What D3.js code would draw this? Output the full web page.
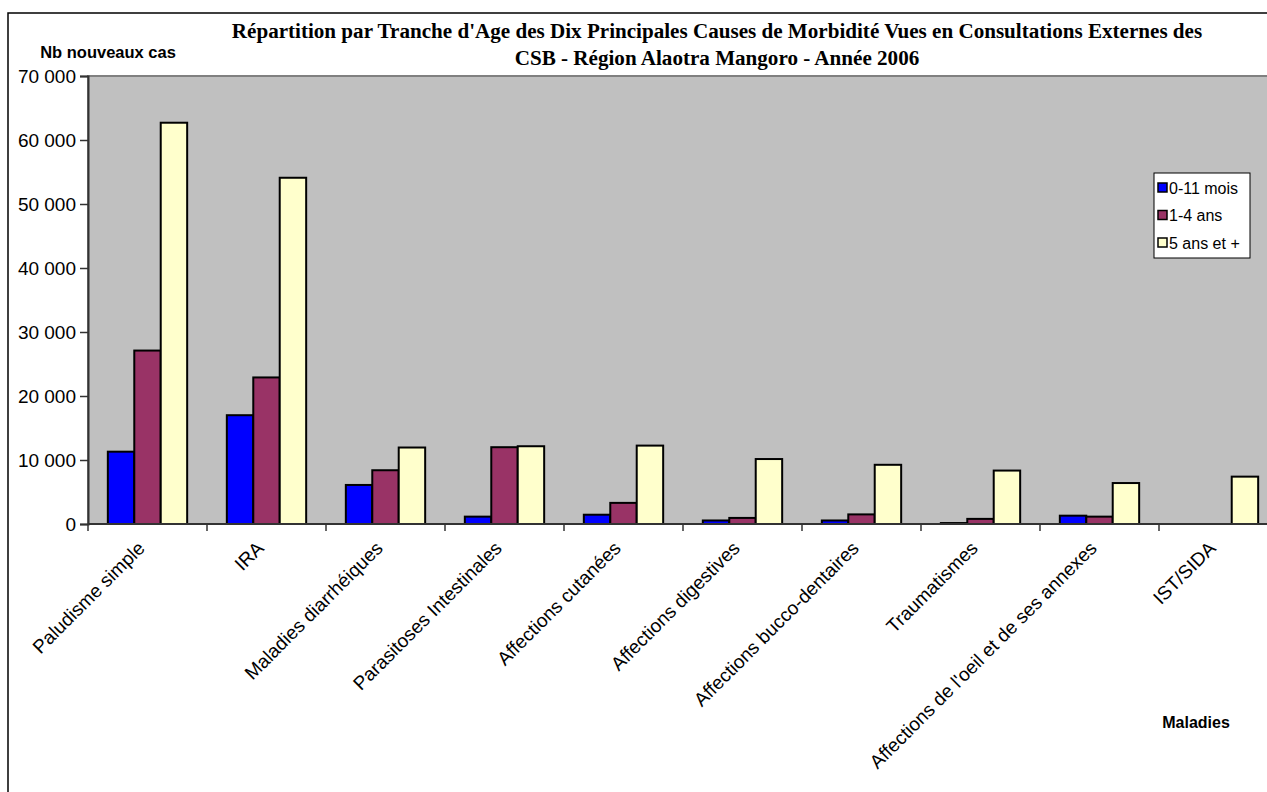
<!DOCTYPE html>
<html><head><meta charset="utf-8">
<script src="https://cdn.jsdelivr.net/npm/d3@7"></script>
<style>html,body{margin:0;padding:0;background:#fff;overflow:hidden}svg{display:block}</style>
</head><body>
<script>
const categories = ["Paludisme simple","IRA","Maladies diarrhéiques","Parasitoses Intestinales","Affections cutanées","Affections digestives","Affections bucco-dentaires","Traumatismes","Affections de l'oeil et de ses annexes","IST/SIDA"];
const seriesNames = ["0-11 mois","1-4 ans","5 ans et +"];
const s0_11mois = [11300, 17000, 6100, 1150, 1450, 550, 550, 150, 1300, 0];
const s1_4ans = [27100, 22900, 8400, 12000, 3300, 950, 1500, 800, 1150, 0];
const s5ansplus = [62700, 54100, 11950, 12150, 12250, 10150, 9250, 8350, 6400, 7400];
const yTicks = [0,10000,20000,30000,40000,50000,60000,70000];
const colors = ["#0000FF","#993366","#FFFFCC"];

const W=1267,H=792;
const svg=d3.select("body").append("svg").attr("width",W).attr("height",H);
// outer chart frame (extends beyond viewport)
svg.append("rect").attr("x",8).attr("y",13).attr("width",1400).attr("height",1000)
  .attr("fill","#fff").attr("stroke","#000").attr("stroke-width",1.5);

const L=88,T=76,R=1278,B=524;
const y=d3.scaleLinear().domain([0,70000]).range([B,T]);
const x0=d3.scaleBand().domain(categories).range([L,R]).padding(0);
const bw=x0.bandwidth();
const x1=d3.scaleBand().domain(seriesNames).range([bw/4.5*0.75, bw - bw/4.5*0.75]).padding(0);

// plot area
svg.append("rect").attr("x",L).attr("y",T).attr("width",R-L).attr("height",B-T)
  .attr("fill","#C0C0C0").attr("stroke","#808080").attr("stroke-width",2);

const data=[s0_11mois,s1_4ans,s5ansplus];
const g=svg.append("g");
seriesNames.forEach((s,si)=>{
  g.selectAll(null).data(categories).enter().append("rect")
    .attr("x",c=>x0(c)+x1(s))
    .attr("y",(c,i)=>y(data[si][i]))
    .attr("width",x1.bandwidth())
    .attr("height",(c,i)=>B-y(data[si][i]))
    .attr("fill",colors[si])
    .attr("stroke","#000").attr("stroke-width",(c,i)=>data[si][i]>0?2:0);
});

// y axis
const fmt=v=>d3.format(",")(v).replace(/,/g," ");
const ya=svg.append("g").attr("transform",`translate(${L},0)`)
  .call(d3.axisLeft(y).tickValues(yTicks).tickFormat(fmt).tickSize(8).tickPadding(4));
ya.select(".domain").attr("stroke","#333").attr("stroke-width",2);
ya.selectAll(".tick line").attr("stroke","#333").attr("stroke-width",1.5);
ya.selectAll(".tick text").attr("font-family","Liberation Sans, Arial, sans-serif").attr("font-size",19).attr("fill","#000");

// x axis
const xa=svg.append("g").attr("transform",`translate(0,${B})`);
xa.append("line").attr("x1",L).attr("x2",R).attr("y1",0).attr("y2",0).attr("stroke","#333").attr("stroke-width",2);
const bounds=categories.map(c=>x0(c)).concat([R]);
xa.selectAll(null).data(bounds).enter().append("line")
  .attr("x1",d=>d).attr("x2",d=>d).attr("y1",0).attr("y2",7).attr("stroke","#333").attr("stroke-width",1.5);
xa.selectAll(null).data(categories).enter().append("text")
  .attr("transform",c=>`translate(${x0(c)+bw/2-11},${16}) rotate(-45)`)
  .attr("text-anchor","end").attr("dy","0.7em")
  .attr("font-family","Liberation Sans, Arial, sans-serif").attr("font-size",19).attr("fill","#000")
  .text(c=>c);

// titles
const title=svg.append("text").attr("x",717).attr("text-anchor","middle")
  .attr("font-family","Liberation Serif, Times New Roman, serif").attr("font-weight","bold").attr("font-size",21.1).attr("fill","#000");
title.append("tspan").attr("x",717).attr("y",38).text("Répartition par Tranche d'Age des Dix Principales Causes de Morbidité Vues en Consultations Externes des");
title.append("tspan").attr("x",717).attr("y",65).text("CSB - Région Alaotra Mangoro - Année 2006");

svg.append("text").attr("x",108).attr("y",58).attr("text-anchor","middle")
  .attr("font-family","Liberation Sans, Arial, sans-serif").attr("font-weight","bold").attr("font-size",16.5).text("Nb nouveaux cas");
svg.append("text").attr("x",1196).attr("y",728).attr("text-anchor","middle")
  .attr("font-family","Liberation Sans, Arial, sans-serif").attr("font-weight","bold").attr("font-size",16).text("Maladies");

// legend
const lg=svg.append("g").attr("transform","translate(1154,173)");
lg.append("rect").attr("width",96).attr("height",85).attr("fill","#fff").attr("stroke","#000").attr("stroke-width",1);
seriesNames.forEach((s,i)=>{
  const yy=15+i*27.5;
  lg.append("rect").attr("x",4).attr("y",yy-5).attr("width",9).attr("height",9).attr("fill",colors[i]).attr("stroke","#000").attr("stroke-width",1.5);
  lg.append("text").attr("x",15).attr("y",yy+5.5).attr("font-family","Liberation Sans, Arial, sans-serif").attr("font-size",16).text(s);
});
</script>
</body></html>
